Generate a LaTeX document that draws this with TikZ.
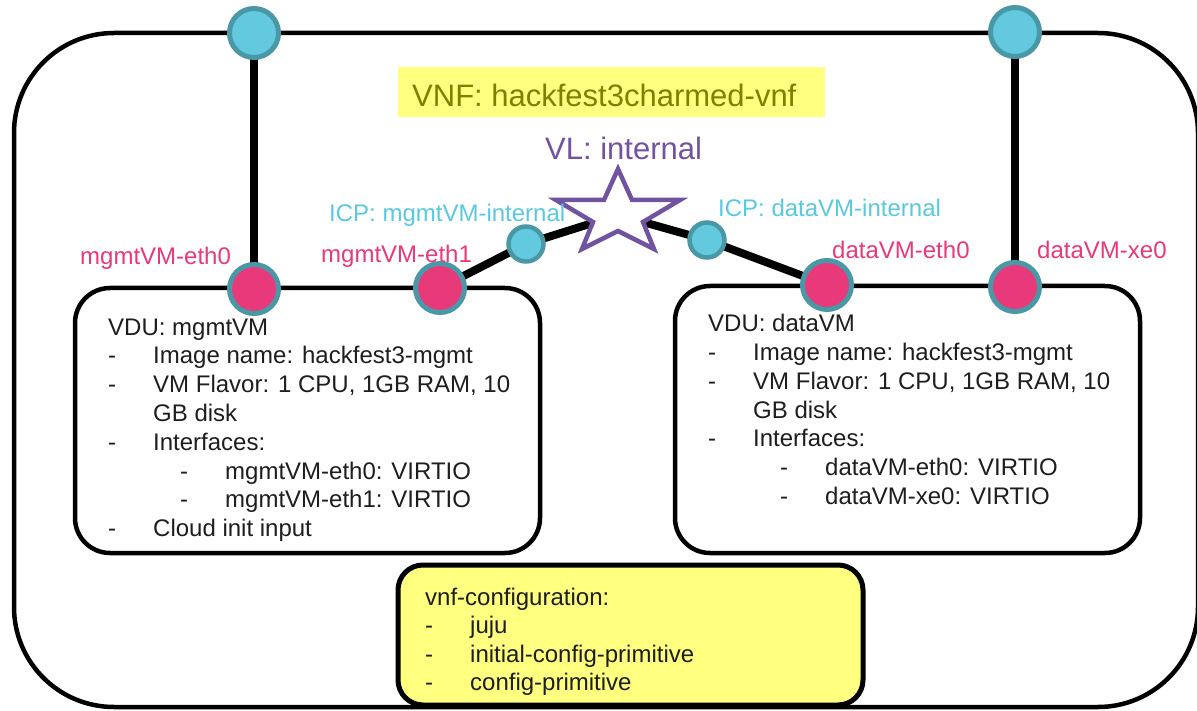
\documentclass[tikz,border=0pt]{standalone}
\usepackage{fontspec}
\setmainfont{Liberation Sans}
\definecolor{cyf}{RGB}{99,201,223}
\definecolor{cbord}{RGB}{74,151,166}
\definecolor{pk}{RGB}{232,57,122}
\definecolor{cytext}{RGB}{91,200,224}
\definecolor{vlp}{RGB}{113,83,160}
\definecolor{ylw}{RGB}{255,255,128}
\definecolor{olv}{RGB}{128,128,0}
\definecolor{bodytxt}{RGB}{30,30,30}
\newcommand\bul[1]{\makebox[45pt][l]{-}#1}
\pgfdeclarelayer{bg}
\pgfdeclarelayer{links}
\pgfsetlayers{bg,links,main}
\tikzset{
  port/.style={circle, fill=cyf, draw=cbord, line width=5pt, minimum size=49pt, inner sep=0pt},
  cpt/.style={circle, fill=pk, draw=cbord, line width=5pt, minimum size=49pt, inner sep=0pt},
  icp/.style={circle, fill=cyf, draw=cbord, line width=4.5pt, minimum size=35pt, inner sep=0pt},
  link/.style={line width=8pt, draw=black},
  vdu/.style={draw=black, line width=4.5pt, rounded corners=35pt, inner sep=0pt},
  lbl/.style={anchor=base west, inner sep=0pt, font=\fontsize{24}{29}\selectfont},
  body/.style={lbl, text=bodytxt},
  big/.style={anchor=base west, inner sep=0pt, font=\fontsize{31}{37}\selectfont}
}
\begin{document}
\begin{tikzpicture}[x=1pt,y=-1pt]
\useasboundingbox (0,0) rectangle (1197,711);
\begin{pgfonlayer}{bg}
\fill[white] (0,0) rectangle (1197,711);
\end{pgfonlayer}
% outer VNF box
\node[draw=black, line width=4.5pt, rounded corners=100pt, minimum width=1184pt, minimum height=674pt, inner sep=0pt] (vnf) at (606,370) {};
% title
\node[fill=ylw, minimum width=427pt, minimum height=50pt, inner sep=0pt] (titlebox) at (611.5,92) {};
\node[big, text=olv] (title) at (412,107) {VNF: hackfest3charmed-vnf};
% VDU boxes
\node[vdu, minimum width=465pt, minimum height=265pt] (mgmt) at (307.5,420.5) {};
\node[vdu, minimum width=465pt, minimum height=267pt] (data) at (907.5,419.5) {};
% config box
\node[draw=black, fill=ylw, line width=5pt, rounded corners=25pt, minimum width=465pt, minimum height=140pt, inner sep=0pt] (cfg) at (630.5,635) {};
% ports
\coordinate (vl) at (618,215);
\node[port] (t1) at (254,33) {};
\node[port] (t2) at (1015,32) {};
\node[cpt] (e0) at (254,289) {};
\node[cpt] (e1) at (440,288) {};
\node[cpt] (d0) at (827,285) {};
\node[cpt] (x0) at (1015,287) {};
\node[icp] (i1) at (526,244) {};
\node[icp] (i2) at (707,240) {};
% links
\begin{pgfonlayer}{links}
\draw[link] (t1.center) -- (e0.center);
\draw[link] (t2.center) -- (x0.center);
\draw[link] (e1.center) -- (i1.center) -- (vl);
\draw[link] (vl) -- (i2.center) -- (d0.center);
\end{pgfonlayer}
% star
\filldraw[fill=white, draw=vlp, line width=4.5pt, line join=miter]
  (618,169) -- (632,200) -- (680,200) -- (643,222) -- (654,249) -- (618,231)
  -- (582,249) -- (593,222) -- (556,200) -- (604,200) -- cycle;
\node[big, text=vlp] (vllbl) at (545,160) {VL: internal};
% labels
\node[lbl, text=cytext] (i1lbl) at (329,222) {ICP: mgmtVM-internal};
\node[lbl, text=cytext] (i2lbl) at (718,217) {ICP: dataVM-internal};
\node[lbl, text=pk] (e0lbl) at (80,265) {mgmtVM-eth0};
\node[lbl, text=pk] (e1lbl) at (321,263) {mgmtVM-eth1};
\node[lbl, text=pk] (d0lbl) at (832,259) {dataVM-eth0};
\node[lbl, text=pk] (x0lbl) at (1037,259) {dataVM-xe0};
% mgmt text
\node[body] (m1) at (108,335) {VDU: mgmtVM};
\node[body] (m2) at (108,363.8) {\bul{Image name: hackfest3-mgmt}};
\node[body] (m3) at (108,392.6) {\bul{VM Flavor: 1 CPU, 1GB RAM, 10}};
\node[body] (m4) at (153,421.4) {GB disk};
\node[body] (m5) at (108,450.2) {\bul{Interfaces:}};
\node[body] (m6) at (180,479) {\bul{mgmtVM-eth0: VIRTIO}};
\node[body] (m7) at (180,507.8) {\bul{mgmtVM-eth1: VIRTIO}};
\node[body] (m8) at (108,536.6) {\bul{Cloud init input}};
% data text
\node[body] (n1) at (708,332) {VDU: dataVM};
\node[body] (n2) at (708,360.7) {\bul{Image name: hackfest3-mgmt}};
\node[body] (n3) at (708,389.4) {\bul{VM Flavor: 1 CPU, 1GB RAM, 10}};
\node[body] (n4) at (753,418.1) {GB disk};
\node[body] (n5) at (708,446.8) {\bul{Interfaces:}};
\node[body] (n6) at (780,475.5) {\bul{dataVM-eth0: VIRTIO}};
\node[body] (n7) at (780,504.2) {\bul{dataVM-xe0: VIRTIO}};
% config text
\node[body] (c1) at (425,605) {vnf-configuration:};
\node[body] (c2) at (425,633.5) {\bul{juju}};
\node[body] (c3) at (425,662) {\bul{initial-config-primitive}};
\node[body] (c4) at (425,690.5) {\bul{config-primitive}};
\end{tikzpicture}
\end{document}
